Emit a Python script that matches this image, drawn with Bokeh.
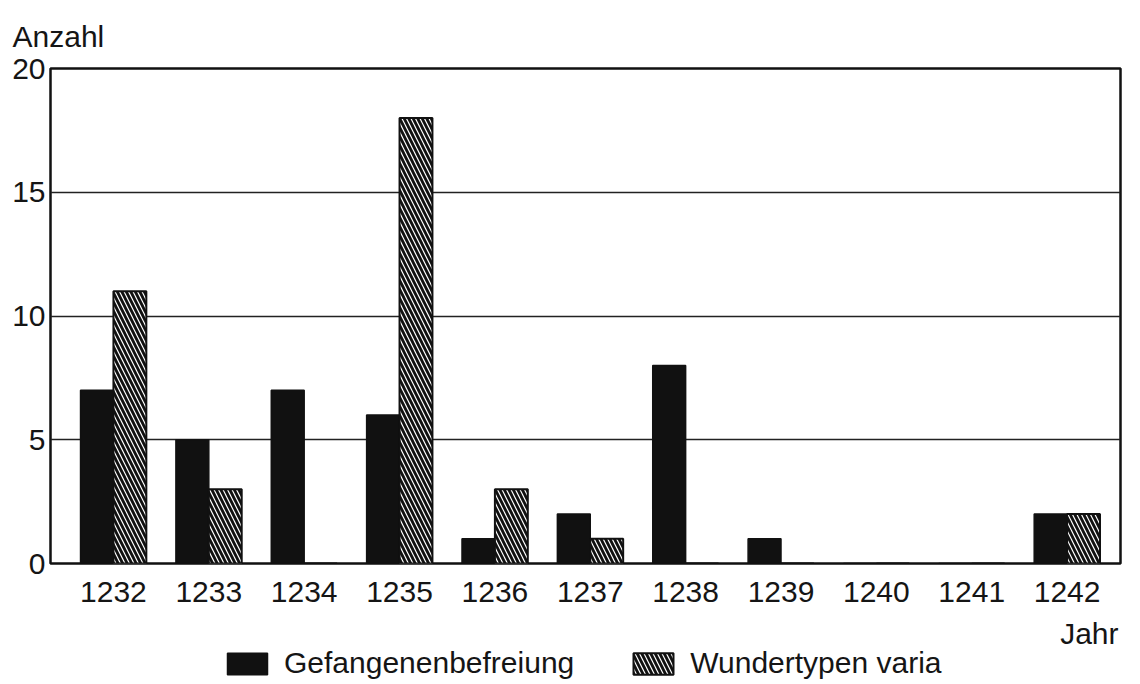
from bokeh.plotting import figure
from bokeh.layouts import column
from bokeh.models import (FixedTicker, Legend, LegendItem, Title, Range1d,
                          ColumnDataSource, Label)
from bokeh.transform import dodge
from bokeh.embed import file_html
from bokeh.resources import INLINE

years = [1232, 1233, 1234, 1235, 1236, 1237, 1238, 1239, 1240, 1241, 1242]
gefangenenbefreiung = [7, 5, 7, 6, 1, 2, 8, 1, 0, 0, 2]
wundertypen_varia = [11, 3, 0, 18, 3, 1, 0, 0, 0, 0, 2]
y_ticks = [0, 5, 10, 15, 20]
series_names = ["Gefangenenbefreiung", "Wundertypen varia"]

FONT = "Liberation Sans"
TXT = "#151515"
FS = "30px"
W = 1132

src = ColumnDataSource(dict(year=years, g=gefangenenbefreiung, w=wundertypen_varia))

p = figure(width=W, height=619, output_backend="svg", toolbar_location=None,
           x_range=Range1d(1231.34, 1242.56), y_range=Range1d(0, 20),
           min_border_left=50, min_border_right=12, min_border_top=68,
           min_border_bottom=56, background_fill_color="white",
           border_fill_color="white")

bw = 0.345
black_style = dict(fill_color="#111111", line_color="#111111", line_width=1.5)
hatch_style = dict(fill_color="white", line_color="#111111", line_width=2,
                   hatch_pattern="\\", hatch_color="#111111", hatch_weight=2.8,
                   hatch_scale=9)
p.vbar(x=dodge("year", -bw / 2, range=p.x_range), top="g", width=bw, source=src,
       **black_style)
p.vbar(x=dodge("year", bw / 2, range=p.x_range), top="w", width=bw, source=src,
       **hatch_style)

p.outline_line_color = "#111111"
p.outline_line_width = 2.5

p.xgrid.visible = False
p.ygrid.ticker = FixedTicker(ticks=y_ticks)
p.ygrid.grid_line_color = "#222222"
p.ygrid.grid_line_width = 1.5

p.yaxis.ticker = FixedTicker(ticks=y_ticks)
p.xaxis.ticker = FixedTicker(ticks=years)
for ax in (p.xaxis, p.yaxis):
    ax.axis_line_color = None
    ax.major_tick_line_color = None
    ax.minor_tick_line_color = None
    ax.major_tick_out = 0
    ax.major_tick_in = 0
    ax.minor_tick_out = 0
    ax.major_label_text_font = FONT
    ax.major_label_text_font_size = FS
    ax.major_label_text_color = TXT
p.xaxis.major_label_standoff = 18
p.yaxis.major_label_standoff = 5

p.title = Title(text="Anzahl", align="left", offset=-38, text_font=FONT,
                text_font_size=FS, text_font_style="normal", text_color=TXT,
                standoff=32)

# legend strip with the "Jahr" axis title (its frame is aligned with the main frame)
lg = figure(width=W, height=62, output_backend="svg", toolbar_location=None,
            x_range=Range1d(0, 1), y_range=Range1d(100, 101),
            x_axis_location=None, y_axis_location=None,
            min_border_left=0, min_border_right=0, min_border_top=0,
            min_border_bottom=0, outline_line_color=None,
            background_fill_color="white", border_fill_color="white")
lg.xgrid.visible = False
lg.ygrid.visible = False
# key renderers reuse the data; hidden, only their legend keys are shown
k1 = lg.vbar(x="year", top="g", width=bw, source=src, visible=False, **black_style)
k2 = lg.vbar(x="year", top="w", width=bw, source=src, visible=False, **hatch_style)

legend = Legend(items=[LegendItem(label=series_names[0], renderers=[k1]),
                       LegendItem(label=series_names[1], renderers=[k2])],
                orientation="horizontal", location=(172, 1),
                glyph_width=50, glyph_height=27, label_standoff=12, spacing=54,
                label_text_font=FONT, label_text_font_size=FS,
                label_text_color=TXT, border_line_color=None,
                background_fill_alpha=0, padding=0, margin=0)
lg.add_layout(legend, "center")

lg.add_layout(Label(x=1068, y=48, x_units="screen", y_units="screen", text="Jahr",
                    text_align="right", text_baseline="alphabetic",
                    text_font=FONT, text_font_size=FS, text_color=TXT))

layout = column(p, lg, spacing=0)
open("out.html", "w").write(file_html(layout, INLINE))
